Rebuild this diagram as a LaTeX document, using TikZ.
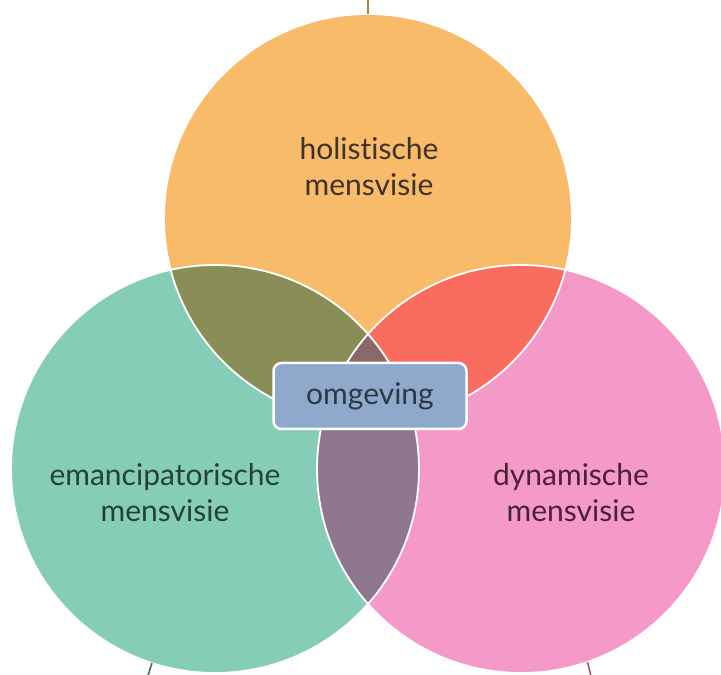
\documentclass[tikz,border=0pt]{standalone}
\usepackage{fontspec}
\setmainfont{Lato}[Ligatures=NoCommon]
\definecolor{corange}{RGB}{248,187,106}
\definecolor{cgreen}{RGB}{134,205,183}
\definecolor{cpink}{RGB}{244,153,200}
\definecolor{colive}{RGB}{137,141,86}
\definecolor{cred}{RGB}{249,108,94}
\definecolor{cpurple}{RGB}{143,119,143}
\definecolor{cbrown}{RGB}{140,104,106}
\definecolor{cbox}{RGB}{142,169,204}
\definecolor{ctop}{RGB}{170,134,46}
\definecolor{cgl}{RGB}{62,107,92}
\definecolor{cpl}{RGB}{176,80,127}
\definecolor{thol}{RGB}{63,50,38}
\definecolor{tema}{RGB}{38,64,58}
\definecolor{tdyn}{RGB}{74,34,54}
\definecolor{tomg}{RGB}{43,56,70}
\begin{document}
\begin{tikzpicture}[x=1pt,y=1pt,
  venn/.style={circle, minimum size=408pt, inner sep=0pt, outer sep=0pt},
  lbl/.style={align=center, font=\fontsize{30}{36}\selectfont},
  link/.style={line width=1.6pt},
  sep/.style={white, line width=1.8pt}]
\useasboundingbox (0,0) rectangle (721,675);
\clip (0,0) rectangle (721,675);
\node[venn, fill=corange] (hol) at (368,457) {};
\node[venn, fill=cgreen] (ema) at (215,206) {};
\node[venn, fill=cpink] (dyn) at (521,206) {};
\begin{scope}\clip (hol.center) circle (204); \fill[colive] (ema.center) circle (204); \end{scope}
\begin{scope}\clip (hol.center) circle (204); \fill[cred] (dyn.center) circle (204); \end{scope}
\begin{scope}\clip (ema.center) circle (204); \fill[cpurple] (dyn.center) circle (204); \end{scope}
\begin{scope}\clip (hol.center) circle (204); \clip (ema.center) circle (204); \fill[cbrown] (dyn.center) circle (204); \end{scope}
\draw[sep] (hol.center) circle (204);
\draw[sep] (ema.center) circle (204);
\draw[sep] (dyn.center) circle (204);
\coordinate (topend) at (368,680);
\coordinate (emaend) at (144,-13);
\coordinate (dynend) at (594,-13);
\draw[link, draw=ctop] (hol.north) -- (topend);
\draw[link, draw=cgl] (ema.252) -- (emaend);
\draw[link, draw=cpl] (dyn.289) -- (dynend);
\node[lbl, text=thol] (tHol) at (369,508) {holistische\\mensvisie};
\node[lbl, text=tema] (tEma) at (165,182) {emancipatorische\\mensvisie};
\node[lbl, text=tdyn] (tDyn) at (571,182) {dynamische\\mensvisie};
\node[lbl, draw=white, line width=2.5pt, fill=cbox, rounded corners=8pt,
      minimum width=193pt, minimum height=66pt, text=tomg] (omg) at (370,279) {omgeving};
\end{tikzpicture}
\end{document}
